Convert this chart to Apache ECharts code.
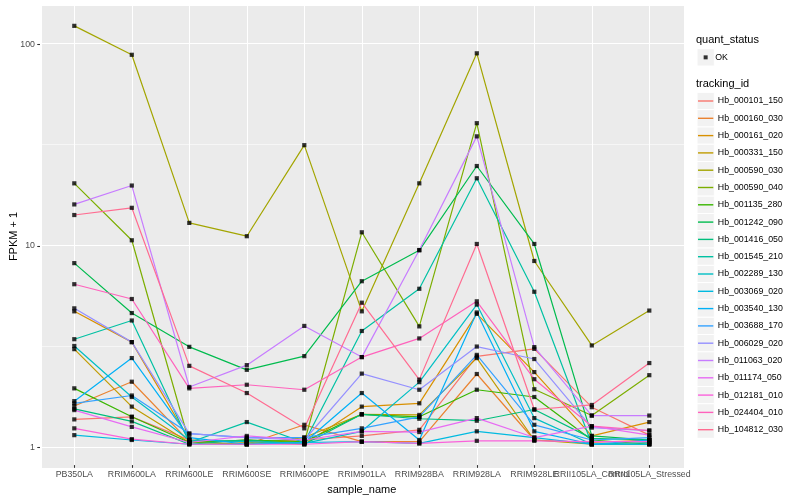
<!DOCTYPE html>
<html><head><meta charset="utf-8">
<script src="https://cdn.jsdelivr.net/npm/echarts@6/dist/echarts.min.js"></script>
<style>html,body{margin:0;padding:0;background:#fff}#c{width:800px;height:500px}</style>
</head><body><div id="c"></div>
<script>
// ---------- data ----------
const categories = ['PB350LA','RRIM600LA','RRIM600LE','RRIM600SE','RRIM600PE','RRIM901LA','RRIM928BA','RRIM928LA','RRIM928LE','RRII105LA_Control','RRII105LA_Stressed'];
const trackingIds = ['Hb_000101_150','Hb_000160_030','Hb_000161_020','Hb_000331_150','Hb_000590_030','Hb_000590_040','Hb_001135_280','Hb_001242_090','Hb_001416_050','Hb_001545_210','Hb_002289_130','Hb_003069_020','Hb_003540_130','Hb_003688_170','Hb_006029_020','Hb_011063_020','Hb_011174_050','Hb_012181_010','Hb_024404_010','Hb_104812_030'];
const quantStatus = ['OK'];
const yTickLabels = [1, 10, 100];

const hb_000101_150 = [1.33, 1.37, 1.05, 1.03, 1.05, 1.10, 1.18, 2.74, 2.99, 1.53, 1.11];
const hb_000160_030 = [1.55, 2.05, 1.03, 1.00, 1.25, 1.03, 1.03, 2.24, 1.05, 1.02, 1.05];
const hb_000161_020 = [4.60, 3.23, 1.05, 1.02, 1.00, 1.54, 1.60, 4.47, 2.29, 1.10, 1.29];
const hb_000331_150 = [2.98, 1.54, 1.02, 1.00, 1.08, 1.41, 1.40, 2.69, 1.05, 1.00, 1.00];
const hb_000590_030 = [122, 87.5, 12.7, 10.9, 31.0, 4.60, 20.0, 89.0, 8.20, 3.11, 4.64];
const hb_000590_040 = [20.0, 10.4, 1.02, 1.05, 1.02, 11.4, 3.87, 39.9, 1.88, 1.39, 2.21];
const hb_001135_280 = [1.90, 1.37, 1.02, 1.05, 1.03, 1.41, 1.37, 1.87, 1.72, 1.05, 1.00];
const hb_001242_090 = [8.00, 4.51, 3.06, 2.35, 2.75, 6.50, 9.27, 24.4, 9.97, 1.10, 1.05];
const hb_001416_050 = [1.50, 1.30, 1.00, 1.05, 1.00, 1.41, 1.34, 1.31, 1.49, 1.07, 1.05];
const hb_001545_210 = [3.34, 4.14, 1.02, 1.29, 1.02, 3.67, 5.96, 21.2, 5.76, 1.00, 1.02];
const hb_002289_130 = [3.09, 1.72, 1.05, 1.03, 1.01, 1.16, 2.04, 4.97, 1.35, 1.00, 1.00];
const hb_003069_020 = [1.11, 1.05, 1.00, 1.00, 1.02, 1.03, 1.01, 1.16, 1.08, 1.00, 1.00];
const hb_003540_130 = [1.64, 2.69, 1.08, 1.00, 1.02, 1.80, 1.05, 4.54, 1.16, 1.00, 1.05];
const hb_003688_170 = [1.60, 1.75, 1.13, 1.08, 1.08, 1.20, 1.37, 2.79, 1.25, 1.05, 1.08];
const hb_006029_020 = [4.76, 3.23, 1.13, 1.08, 1.05, 2.25, 1.87, 3.07, 2.66, 1.21, 1.17];
const hb_011063_020 = [15.7, 19.5, 1.93, 2.48, 3.89, 2.72, 9.30, 34.3, 3.05, 1.39, 1.39];
const hb_011174_050 = [1.48, 1.22, 1.02, 1.10, 1.05, 1.16, 1.15, 1.35, 1.08, 1.23, 1.11];
const hb_012181_010 = [1.20, 1.06, 1.00, 1.00, 1.00, 1.03, 1.01, 1.04, 1.04, 1.03, 1.03];
const hb_024404_010 = [6.28, 5.30, 1.90, 1.98, 1.87, 2.72, 3.37, 5.16, 2.11, 1.23, 1.17];
const hb_104812_030 = [13.9, 15.1, 2.46, 1.80, 1.20, 5.08, 2.10, 9.97, 1.49, 1.57, 2.54];

const seriesValues = [hb_000101_150, hb_000160_030, hb_000161_020, hb_000331_150, hb_000590_030,
  hb_000590_040, hb_001135_280, hb_001242_090, hb_001416_050, hb_001545_210, hb_002289_130,
  hb_003069_020, hb_003540_130, hb_003688_170, hb_006029_020, hb_011063_020, hb_011174_050,
  hb_012181_010, hb_024404_010, hb_104812_030];

// ---------- style ----------
const palette = ['#F8766D','#EA8331','#D89000','#C09B00','#A3A500','#7CAE00','#39B600','#00BB4E','#00BF7D','#00C1A3','#00BFC4','#00BAE0','#00B0F6','#35A2FF','#9590FF','#C77CFF','#E76BF3','#FA62DB','#FF62BC','#FF6C91'];
const FONT = '"Liberation Sans", Arial, Helvetica, sans-serif';
const Y_MIN = 0.787, Y_MAX = 155;
const PANEL = {left: 40, right: 116, top: 5, bottom: 32};
const CAT_GRID = {left: 74.3, right: 150.7, top: 5, bottom: 32};
const KEY_X = 697, KEY_W = 17.3, KEY_TOP = 92.35;

const chart = echarts.init(document.getElementById('c'), null, {renderer: 'canvas'});

const lineSeries = trackingIds.map((id, i) => ({
  name: id, type: 'line', xAxisIndex: 1, yAxisIndex: 2,
  data: seriesValues[i], showSymbol: false, symbol: 'none',
  lineStyle: {width: 1.2, color: palette[i]}, itemStyle: {color: palette[i]},
  z: 2, silent: true, animation: false
}));
const pointData = [];
seriesValues.forEach(vals => vals.forEach((v, j) => pointData.push([categories[j], v])));

const keyRects = [];
keyRects.push({type: 'rect', shape: {x: KEY_X, y: 48.7, width: KEY_W, height: KEY_W},
  style: {fill: '#F2F2F2', stroke: '#fff', lineWidth: 1}, z: -1});
trackingIds.forEach((id, i) => keyRects.push({type: 'rect',
  shape: {x: KEY_X, y: KEY_TOP + i * KEY_W, width: KEY_W, height: KEY_W},
  style: {fill: '#F2F2F2', stroke: '#fff', lineWidth: 1}, z: -1}));

const hiddenAxis = {show: false, axisLine: {show: false}, axisTick: {show: false}, axisLabel: {show: false}, splitLine: {show: false}};

chart.setOption({
  animation: false,
  backgroundColor: '#fff',
  title: [
    {text: 'quant_status', left: 696, top: 34.5, padding: 0, textStyle: {fontFamily: FONT, fontSize: 11, fontWeight: 'normal', color: '#000'}},
    {text: 'tracking_id', left: 696, top: 78.5, padding: 0, textStyle: {fontFamily: FONT, fontSize: 11, fontWeight: 'normal', color: '#000'}}
  ],
  graphic: keyRects,
  legend: [
    {data: quantStatus, orient: 'vertical', left: KEY_X + KEY_W / 2 - 2, top: 48.7, padding: 0, itemGap: 0,
      icon: 'rect', itemWidth: 4, itemHeight: 4, selectedMode: false,
      textStyle: {fontFamily: FONT, fontSize: 8.8, color: '#000', lineHeight: 17.3, padding: [0, 0, 0, 2.5]}},
    {data: trackingIds, orient: 'vertical', left: KEY_X + 1, top: KEY_TOP, padding: 0, itemGap: 0,
      icon: 'rect', itemWidth: 15.3, itemHeight: 1.4, selectedMode: false,
      textStyle: {fontFamily: FONT, fontSize: 8.8, color: '#000', lineHeight: 17.3, padding: [0, 0, 0, -0.5]}}
  ],
  grid: [
    Object.assign({show: true, backgroundColor: '#EBEBEB', borderWidth: 0, containLabel: false}, PANEL),
    Object.assign({show: false, containLabel: false}, CAT_GRID),
    {show: false, containLabel: false, left: PANEL.left, right: PANEL.right, top: 44.3, bottom: 500 - 447.7}
  ],
  xAxis: [
    Object.assign({type: 'value', gridIndex: 0}, hiddenAxis),
    {type: 'category', gridIndex: 1, data: categories, boundaryGap: false,
      name: 'sample_name', nameLocation: 'middle', nameGap: 17,
      nameTextStyle: {fontFamily: FONT, fontSize: 11, color: '#000'},
      axisLine: {show: false},
      axisTick: {show: true, interval: 0, length: 2.75, lineStyle: {color: '#333', width: 1.07}},
      axisLabel: {interval: 0, hideOverlap: false, margin: 5, fontFamily: FONT, fontSize: 8.8, color: '#4D4D4D'},
      splitLine: {show: true, interval: 0, lineStyle: {color: '#fff', width: 1.07}}},
    Object.assign({type: 'value', gridIndex: 2}, hiddenAxis)
  ],
  yAxis: [
    {type: 'log', logBase: 10, gridIndex: 0, min: Y_MIN, max: Y_MAX,
      name: 'FPKM + 1', nameLocation: 'middle', nameGap: 23, nameRotate: 90,
      nameTextStyle: {fontFamily: FONT, fontSize: 11, color: '#000'},
      axisLine: {show: false}, axisTick: {show: false}, axisLabel: {show: false},
      splitLine: {show: true, lineStyle: {color: '#fff', width: 1.07}}},
    {type: 'log', logBase: Math.sqrt(10), gridIndex: 0, min: Y_MIN, max: Y_MAX,
      axisLine: {show: false}, axisTick: {show: false}, axisLabel: {show: false},
      splitLine: {show: true, lineStyle: {color: '#fff', width: 0.55}}},
    Object.assign({type: 'log', logBase: 10, gridIndex: 1, min: Y_MIN, max: Y_MAX}, hiddenAxis),
    {type: 'log', logBase: 10, gridIndex: 2, min: yTickLabels[0], max: yTickLabels[yTickLabels.length - 1],
      axisLine: {show: false},
      axisTick: {show: true, length: 2.75, lineStyle: {color: '#333', width: 1.07}},
      axisLabel: {show: true, margin: 5, fontFamily: FONT, fontSize: 8.8, color: '#4D4D4D'},
      splitLine: {show: false}}
  ],
  series: lineSeries.concat([{
    name: 'OK', type: 'scatter', xAxisIndex: 1, yAxisIndex: 2, data: pointData,
    symbol: 'rect', symbolSize: 4.2, itemStyle: {color: '#000'}, z: 5, silent: true, animation: false
  }])
});
</script>
</body></html>
